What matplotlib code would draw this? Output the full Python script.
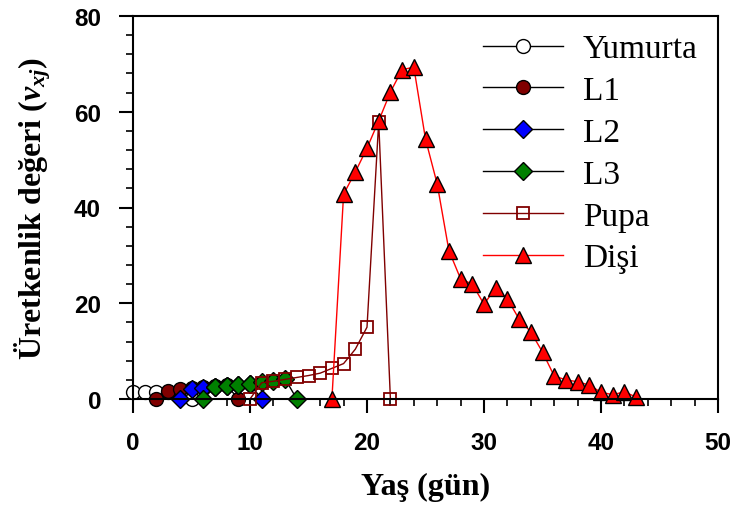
import matplotlib
matplotlib.use("Agg")
import matplotlib.pyplot as plt
from matplotlib.ticker import MultipleLocator

# ---- data ----
yum_x = [0, 1, 2, 3, 4, 5]
yum_y = [1.4, 1.4, 1.4, 1.4, 1.3, 0.0]

l1_x = [2, 3, 4, 5, 6, 7, 8, 9]
l1_y = [0.0, 1.7, 2.0, 2.3, 2.5, 2.7, 2.9, 0.0]

l2_x = [4, 5, 6, 7, 8, 9, 10, 11]
l2_y = [0.0, 2.1, 2.3, 2.5, 2.7, 2.9, 3.1, 0.0]

l3_x = [6, 7, 8, 9, 10, 11, 12, 13, 14]
l3_y = [0.0, 2.5, 2.7, 2.9, 3.2, 3.5, 3.8, 4.2, 0.0]

pupa_x = [10, 11, 12, 13, 14, 15, 16, 17, 18, 19, 20, 21, 22]
pupa_y = [0.0, 3.4, 3.7, 4.1, 4.5, 4.9, 5.4, 6.4, 7.4, 10.4, 15.0, 57.9, 0.0]

disi_x = list(range(17, 44))
disi_y = [0.0, 42.8, 47.4, 52.4, 58.1, 64.1, 68.8, 69.3, 54.3, 44.9,
          31.0, 25.1, 24.0, 19.8, 23.2, 20.9, 16.7, 14.0, 9.8, 4.8,
          4.0, 3.6, 2.9, 1.4, 0.9, 1.5, 0.4]

labels = ["Yumurta", "L1", "L2", "L3", "Pupa", "Dişi"]
xticks = [0, 10, 20, 30, 40, 50]
yticks = [0, 20, 40, 60, 80]

plt.rcParams['mathtext.fontset'] = 'custom'
plt.rcParams['mathtext.rm'] = 'Liberation Serif:bold'
plt.rcParams['mathtext.it'] = 'Liberation Serif:bold:italic'
plt.rcParams['mathtext.bf'] = 'Liberation Serif:bold'

fig = plt.figure(figsize=(7.36, 5.10), dpi=100)
ax = fig.add_axes([133/736, 110/510, 585/736, 383/510])

lw = 1.0
common = dict(clip_on=False, markeredgewidth=1.0, markeredgecolor='black')
ax.plot(yum_x, yum_y, '-', color='black', lw=lw, marker='o', ms=10,
        markerfacecolor='white', label=labels[0], **common)
ax.plot(l1_x, l1_y, '-', color='black', lw=lw, marker='o', ms=10,
        markerfacecolor='#800000', label=labels[1], **common)
ax.plot(l2_x, l2_y, '-', color='black', lw=lw, marker='D', ms=9.5,
        markerfacecolor='#0000ff', label=labels[2], **common)
ax.plot(l3_x, l3_y, '-', color='black', lw=lw, marker='D', ms=9.5,
        markerfacecolor='#008000', label=labels[3], **common)
ax.plot(pupa_x, pupa_y, '-', color='#800000', lw=lw, marker='s', ms=9,
        markerfacecolor='none', markeredgecolor='#800000', markeredgewidth=1.3,
        clip_on=False, label=labels[4])
ax.plot(disi_x, disi_y, '-', color='#ff0000', lw=lw, marker='^', ms=11.5,
        markerfacecolor='#ff0000', label=labels[5], **common)

ax.set_xlim(0, 50)
ax.set_ylim(0, 80)
ax.set_xticks(xticks)
ax.set_yticks(yticks)
ax.xaxis.set_minor_locator(MultipleLocator(2))
ax.yaxis.set_minor_locator(MultipleLocator(4))

for s in ax.spines.values():
    s.set_linewidth(1.5)
ax.tick_params(which='major', direction='out', length=10, width=1.5, pad=13)
ax.tick_params(which='minor', direction='out', length=5, width=1.2)
for lab in ax.get_xticklabels() + ax.get_yticklabels():
    lab.set_fontfamily('Liberation Sans')
    lab.set_fontweight('bold')
    lab.set_fontsize(17.5)

ax.set_xlabel('Yaş (gün)', fontfamily='Liberation Serif', fontweight='bold',
              fontsize=23, labelpad=13)
ax.set_ylabel('Üretkenlik değeri ($v_{xj}$)', fontfamily='Liberation Serif',
              fontweight='bold', fontsize=23, labelpad=15)

leg = ax.legend(loc='upper left', bbox_to_anchor=(466/736, 1 - 18/510),
                bbox_transform=fig.transFigure, frameon=False, borderpad=0,
                handlelength=2.4, handletextpad=0.6, labelspacing=0.34,
                prop={'family': 'Liberation Serif', 'size': 24})

fig.savefig('out.png', dpi=100)
